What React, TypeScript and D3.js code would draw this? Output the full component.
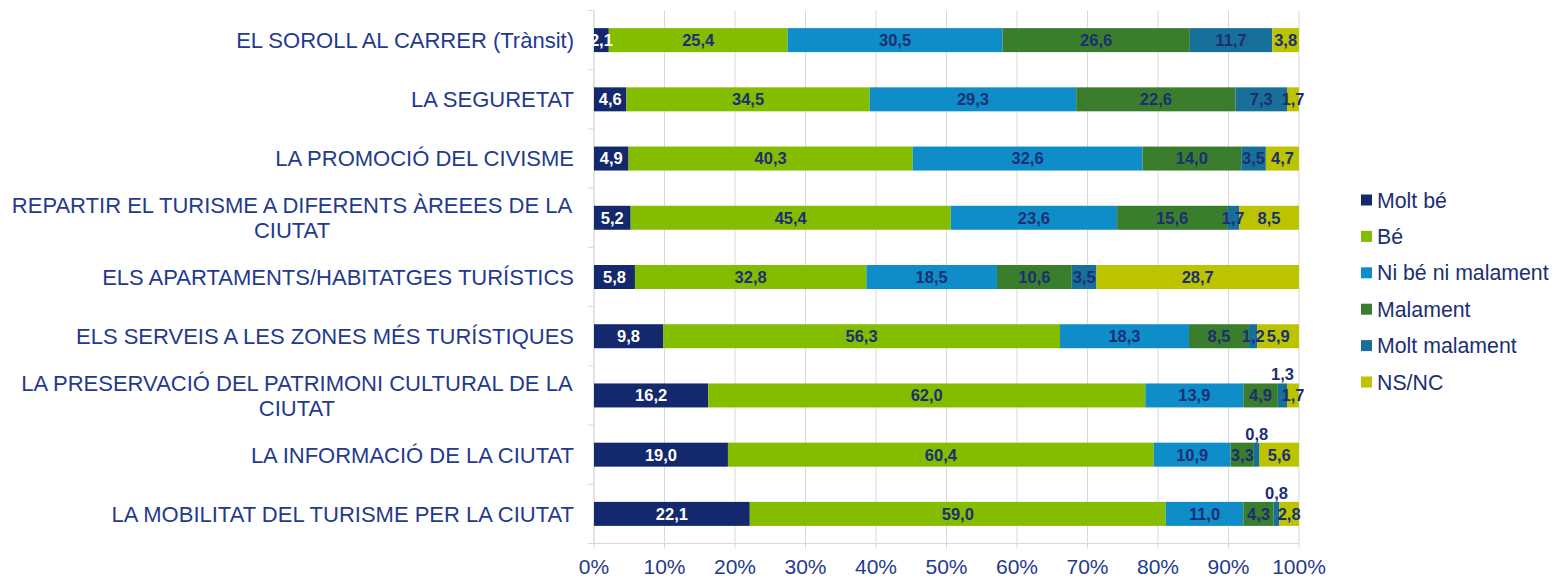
import React from 'react';
import * as d3 from 'd3';

const categories = [
  'EL SOROLL AL CARRER (Trànsit)',
  'LA SEGURETAT',
  'LA PROMOCIÓ DEL CIVISME',
  'REPARTIR EL TURISME A DIFERENTS ÀREEES DE LA CIUTAT',
  'ELS APARTAMENTS/HABITATGES TURÍSTICS',
  'ELS SERVEIS A LES ZONES MÉS TURÍSTIQUES',
  'LA PRESERVACIÓ DEL PATRIMONI CULTURAL DE LA CIUTAT',
  'LA INFORMACIÓ DE LA CIUTAT',
  'LA MOBILITAT DEL TURISME PER LA CIUTAT',
];
const seriesNames = ['Molt bé', 'Bé', 'Ni bé ni malament', 'Malament', 'Molt malament', 'NS/NC'];
const moltBe = [2.1, 4.6, 4.9, 5.2, 5.8, 9.8, 16.2, 19.0, 22.1];
const be = [25.4, 34.5, 40.3, 45.4, 32.8, 56.3, 62.0, 60.4, 59.0];
const niBeNiMalament = [30.5, 29.3, 32.6, 23.6, 18.5, 18.3, 13.9, 10.9, 11.0];
const malament = [26.6, 22.6, 14.0, 15.6, 10.6, 8.5, 4.9, 3.3, 4.3];
const moltMalament = [11.7, 7.3, 3.5, 1.7, 3.5, 1.2, 1.3, 0.8, 0.8];
const nsnc = [3.8, 1.7, 4.7, 8.5, 28.7, 5.9, 1.7, 5.6, 2.8];
const xTicks = [0, 10, 20, 30, 40, 50, 60, 70, 80, 90, 100];
// labels that sit above their bar: [category index, series index]
const labelsAbove = [[6, 4], [7, 4], [8, 4]];

const colors = ['#14286e', '#84bc00', '#0e8dc8', '#3a7d2c', '#176f9a', '#bcc400'];
const labelColors = ['#ffffff', '#1b2f72', '#1b2f72', '#1b2f72', '#1b2f72', '#1b2f72'];

const W = 1558;
const H = 578;
const M = { left: 594, right: 1299, top: 10.5, bottom: 543.5 };

const FONT = '"Liberation Sans", Arial, sans-serif';

function measure(text: string, font: string): number {
  const c = document.createElement('canvas');
  const ctx = c.getContext('2d')!;
  ctx.font = font;
  return ctx.measureText(text).width;
}

function wrap(text: string, maxW: number, font: string): string[] {
  const words = text.split(' ');
  const lines: string[] = [];
  let cur = '';
  for (const w of words) {
    const t = cur ? cur + ' ' + w : w;
    if (measure(t, font) > maxW && cur) {
      lines.push(cur);
      cur = w;
    } else cur = t;
  }
  if (cur) lines.push(cur);
  return lines;
}

export default function App() {
  const rows = categories.map((c, i) => ({
    cat: c,
    v0: moltBe[i], v1: be[i], v2: niBeNiMalament[i], v3: malament[i], v4: moltMalament[i], v5: nsnc[i],
  }));
  const keys = ['v0', 'v1', 'v2', 'v3', 'v4', 'v5'];
  const stacked = d3.stack<any>().keys(keys).offset(d3.stackOffsetExpand)(rows);

  const x = d3.scaleLinear().domain([0, 1]).range([M.left, M.right]);
  const y = d3.scaleBand<string>().domain(categories).range([M.top, M.bottom]).paddingInner(0.595).paddingOuter(0.2975);
  const bw = y.bandwidth();
  const step = y.step();
  const fmt = (v: number) => d3.format('.1f')(v).replace('.', ',');

  const catSize = 22;
  const catFont = `${catSize}px ${FONT}`;
  const aboveSet = new Set(labelsAbove.map(([a, b]) => `${a}-${b}`));

  return (
    <svg width={W} height={H} style={{ position: 'absolute', left: 0, top: 0, background: '#fff' }}>
      {/* grid */}
      {xTicks.map((t) => (
        <line key={'g' + t} x1={x(t / 100)} x2={x(t / 100)} y1={M.top} y2={M.bottom + 5} stroke="#d9d9d9" strokeWidth={1} />
      ))}
      {/* left axis */}
      <line x1={M.left} x2={M.left} y1={M.top} y2={M.bottom} stroke="#d9d9d9" />
      {d3.range(categories.length + 1).map((i) => (
        <line key={'lt' + i} x1={M.left - 6} x2={M.left} y1={M.top + i * step} y2={M.top + i * step} stroke="#d9d9d9" />
      ))}
      <line x1={M.left} x2={M.right} y1={M.bottom} y2={M.bottom} stroke="#d9d9d9" />
      {/* bars */}
      {stacked.map((s, si) => (
        <g key={'s' + si}>
          {s.map((d, i) => (
            <rect key={i} x={x(d[0])} width={x(d[1]) - x(d[0])} y={y(categories[i])!} height={bw} fill={colors[si]} />
          ))}
        </g>
      ))}
      {/* labels */}
      {stacked.map((s, si) => (
        <g key={'l' + si}>
          {s.map((d, i) => {
            const v = (rows[i] as any)[keys[si]] as number;
            const above = aboveSet.has(`${i}-${si}`);
            const cy = y(categories[i])! + bw / 2 + (above ? -21 : 0);
            return (
              <text key={i} x={(x(d[0]) + x(d[1])) / 2} y={cy} dy="0.36em" textAnchor="middle"
                fontFamily={FONT} fontWeight="bold" fontSize={16.5} fill={above ? '#1b2f72' : labelColors[si]}>
                {fmt(v)}
              </text>
            );
          })}
        </g>
      ))}
      {/* category labels */}
      {categories.map((c, i) => {
        const lines = wrap(c, 575, catFont);
        const cy = y(c)! + bw / 2;
        const lh = 25;
        if (lines.length === 1) {
          return (
            <text key={'c' + i} x={574} y={cy} dy="0.36em" textAnchor="end" fontFamily={FONT} fontSize={catSize} fill="#1f3a8f">
              {c}
            </text>
          );
        }
        const maxW = Math.max(...lines.map((l) => measure(l, catFont)));
        const cx = 574 - maxW / 2;
        return (
          <text key={'c' + i} textAnchor="middle" fontFamily={FONT} fontSize={catSize} fill="#1f3a8f">
            {lines.map((l, li) => (
              <tspan key={li} x={cx} y={cy + (li - (lines.length - 1) / 2) * lh} dy="0.36em">{l}</tspan>
            ))}
          </text>
        );
      })}
      {/* x tick labels */}
      {xTicks.map((t) => (
        <text key={'t' + t} x={x(t / 100)} y={574} textAnchor="middle" fontFamily={FONT} fontSize={21} fill="#1f3a8f">
          {t + '%'}
        </text>
      ))}
      {/* legend */}
      {seriesNames.map((n, i) => {
        const ly = 200 + i * 36.4;
        return (
          <g key={'lg' + i}>
            <rect x={1361} y={ly - 5.5} width={11} height={11} fill={colors[i]} />
            <text x={1377} y={ly} dy="0.36em" fontFamily={FONT} fontSize={21.3} fill="#1b2f72">{n}</text>
          </g>
        );
      })}
    </svg>
  );
}
